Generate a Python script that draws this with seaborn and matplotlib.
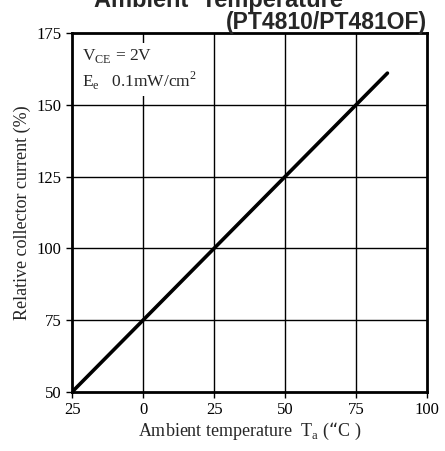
import matplotlib
matplotlib.use("Agg")
import matplotlib.pyplot as plt
import seaborn as sns
import pandas as pd

temps = [-25, 0, 25, 50, 75, 86]
current = [50, 75, 100, 125, 150, 161]
xticks = [-25, 0, 25, 50, 75, 100]
xticklabels = ["25", "0", "25", "50", "75", "100"]
yticks = [50, 75, 100, 125, 150, 175]

sns.set_theme(style="ticks")
plt.rcParams["font.family"] = ["Liberation Serif", "DejaVu Serif"]

df = pd.DataFrame({"t": temps, "c": current})

fig = plt.figure(figsize=(4.45, 4.51), dpi=100)
ax = fig.add_axes([0.162, 0.131, 0.798, 0.796])

for x in [0, 25, 50, 75]:
    ax.axvline(x, color="black", lw=1.0, zorder=1)
for y in [75, 100, 125, 150]:
    ax.axhline(y, color="black", lw=1.0, zorder=1)

sns.lineplot(data=df, x="t", y="c", ax=ax, color="black", lw=2.6, zorder=3)

ax.set_xlim(-25, 100)
ax.set_ylim(50, 175)
ax.set_xticks(xticks)
ax.set_xticklabels(xticklabels)
ax.set_yticks(yticks)
ax.tick_params(axis="both", labelsize=12, length=4, width=1, colors="black", direction="out")
for s in ax.spines.values():
    s.set_linewidth(2)
    s.set_color("black")
    s.set_visible(True)

ax.set_xlabel("Ambient temperature  T$_\\mathregular{a}$ (\u201cC )", fontsize=13, labelpad=2)
ax.set_ylabel("Relative collector current (%)", fontsize=13, labelpad=4)

ax.text(-21.5, 170, "V$_\\mathregular{CE}$ = 2V\nE$_\\mathregular{e}$   0.1mW/cm$^\\mathregular{2}$",
        fontsize=12.5, va="top", ha="left", linespacing=1.25, zorder=4,
        bbox=dict(facecolor="white", edgecolor="none", pad=3))

fig.text(0.49, 0.998, "Ambient  Temperature", fontsize=17, fontweight="bold",
         family="Liberation Sans", ha="center", va="center")
fig.text(0.96, 0.951, "(PT4810/PT481OF)", fontsize=16.5, fontweight="bold",
         family="Liberation Sans", ha="right", va="center")

fig.savefig("out.png", dpi=100)
